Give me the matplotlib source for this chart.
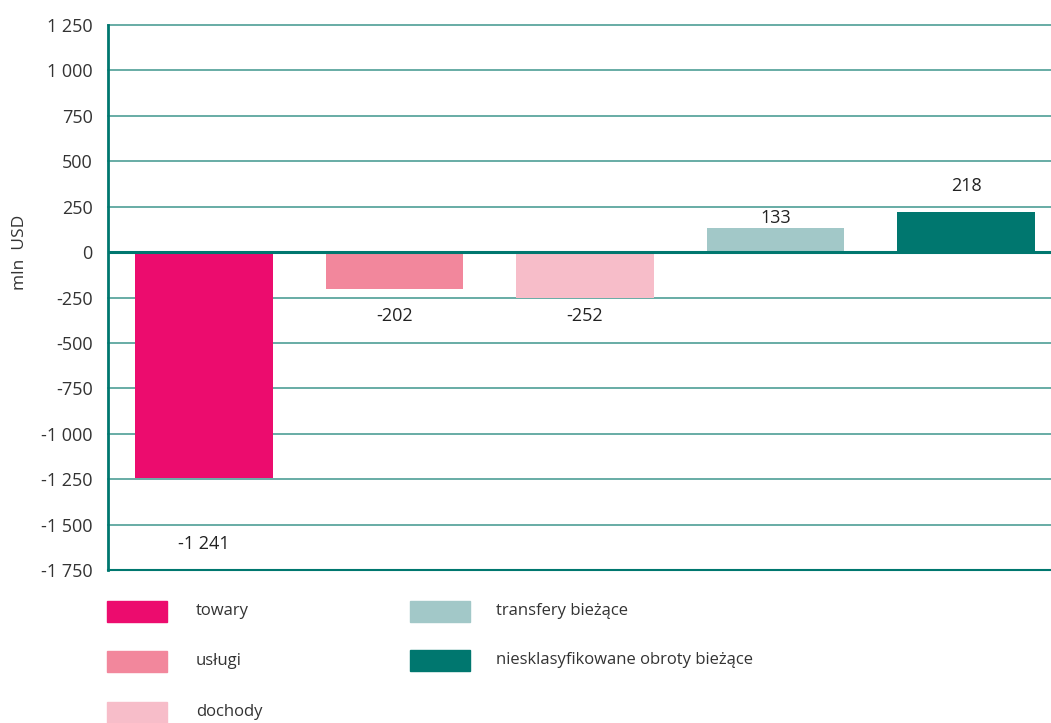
import matplotlib
matplotlib.use("Agg")
import matplotlib.pyplot as plt
from matplotlib.patches import Rectangle
from matplotlib import font_manager

categories = ["towary", "usługi", "dochody", "transfery bieżące",
              "niesklasyfikowane obroty bieżące"]
values = [-1241, -202, -252, 133, 218]
value_labels = ["-1 241", "-202", "-252", "133", "218"]
colors = ["#EC0C6E", "#F2879C", "#F7BDC9", "#A2C8C8", "#00776F"]
yticks = [1250, 1000, 750, 500, 250, 0, -250, -500, -750, -1000, -1250, -1500, -1750]
ytick_labels = ["1 250", "1 000", "750", "500", "250", "0", "-250", "-500",
                "-750", "-1 000", "-1 250", "-1 500", "-1 750"]
ylabel = "mln  USD"

names = {f.name for f in font_manager.fontManager.ttflist}
fam = [f for f in ["Liberation Sans Narrow", "Open Sans", "DejaVu Sans"] if f in names]
plt.rcParams["font.family"] = fam

W, H = 1051, 723
fig = plt.figure(figsize=(W / 100, H / 100), dpi=100)
ax = fig.add_axes([108 / W, (H - 570) / H, 1 - 108 / W, (570 - 25) / H])

grid_c = "#4E9E96"
x = list(range(len(values)))
ax.set_xlim(-0.504, 4.446)
ax.set_ylim(-1750, 1250)
for t in yticks:
    if t != 0:
        ax.axhline(t, color=grid_c, lw=1.2, zorder=1, clip_on=False)
ax.bar(x, values, width=0.724, color=colors, zorder=2)
ax.axhline(0, color="#00776F", lw=2.2, zorder=3)

# value labels (offsets in pixels from bar end)
label_offsets = [-66, -27, -18, 10, 26]
for xi, v, lab, off in zip(x, values, value_labels, label_offsets):
    ax.annotate(lab, (xi, v), xytext=(0, off * 0.72), textcoords="offset points",
                ha="center", va="center", fontsize=13, color="#222222")

ax.set_yticks(yticks)
ax.set_yticklabels(ytick_labels)
ax.set_xticks([])
ax.tick_params(axis="y", length=0, pad=11, labelsize=13, labelcolor="#333333")
for s in ["top", "right"]:
    ax.spines[s].set_visible(False)
ax.spines["left"].set_color("#00776F")
ax.spines["left"].set_linewidth(2)
ax.spines["bottom"].set_color("#00776F")
ax.spines["bottom"].set_linewidth(1.5)
fig.text(20 / W, 1 - 252 / H, ylabel, rotation=90, ha="center", va="center",
         fontsize=12.5, color="#333333")

# legend
leg_pos = [(107, 601), (107, 651), (107, 702), (410, 601), (410, 650)]
for (px, py), c, name in zip(leg_pos, colors, categories):
    fig.patches.append(Rectangle((px / W, 1 - (py + 21) / H), 60 / W, 21 / H,
                                 transform=fig.transFigure, color=c))
    fig.text((px + 89 if px < 300 else px + 86) / W, 1 - (py + 10) / H, name,
             ha="left", va="center", fontsize=12, color="#333333")

fig.savefig("out.png", dpi=100)
